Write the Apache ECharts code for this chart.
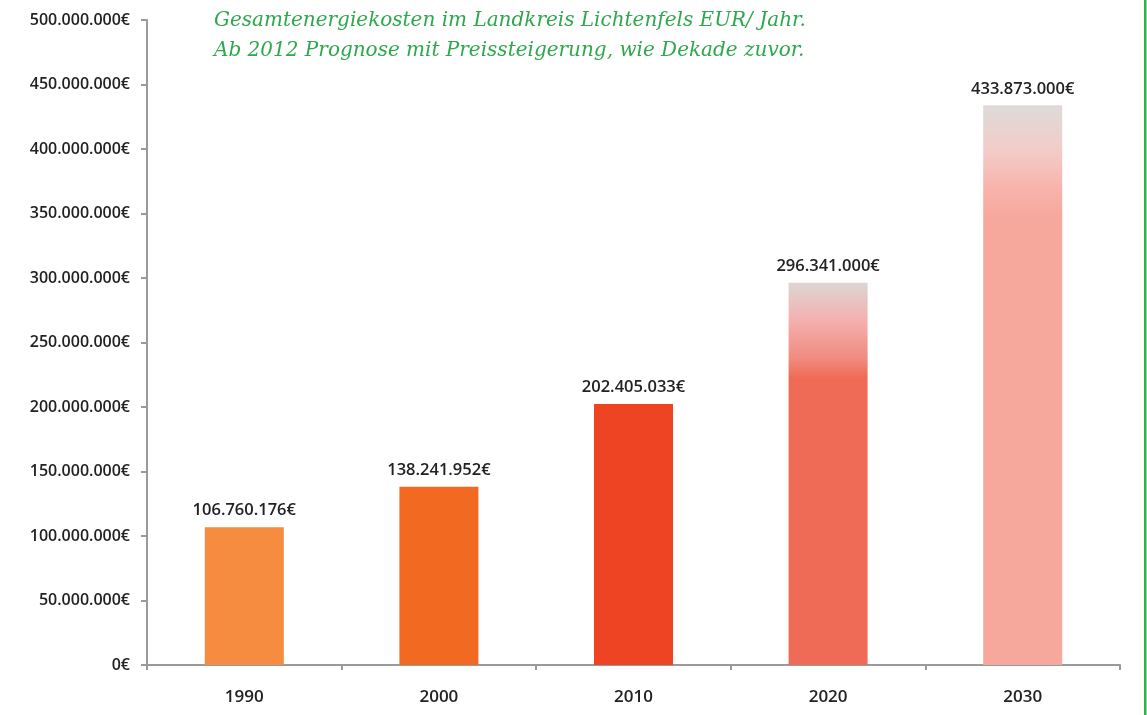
<!DOCTYPE html>
<html>
<head>
<meta charset="utf-8">
<script src="https://cdn.jsdelivr.net/npm/echarts@6/dist/echarts.min.js"></script>
<style>
html,body{margin:0;padding:0;background:#fff;}
#chart{width:1147px;height:715px;}
</style>
</head>
<body>
<div id="chart"></div>
<script>
const categories = ['1990', '2000', '2010', '2020', '2030'];
const values = [106760176, 138241952, 202405033, 296341000, 433873000];
const valueLabels = ['106.760.176€', '138.241.952€', '202.405.033€', '296.341.000€', '433.873.000€'];
const titleLines = ['Gesamtenergiekosten im Landkreis Lichtenfels EUR/ Jahr.', 'Ab 2012 Prognose mit Preissteigerung, wie Dekade zuvor.'];
const yMin = 0, yMax = 500000000, yInterval = 50000000;

function fmt(v) {
  return String(Math.round(v)).replace(/\B(?=(\d{3})+(?!\d))/g, '.') + '€';
}

const colors = [
  '#F58C40',
  '#F26922',
  '#EE4424',
  new echarts.graphic.LinearGradient(0, 0, 0, 1, [
    {offset: 0, color: '#DCD6D4'},
    {offset: 0.1, color: '#F4B0AE'},
    {offset: 0.2, color: '#F08A7E'},
    {offset: 0.25, color: '#F06B55'},
    {offset: 1, color: '#F06B55'}
  ]),
  new echarts.graphic.LinearGradient(0, 0, 0, 1, [
    {offset: 0, color: '#DEDBD9'},
    {offset: 0.08, color: '#F2CCC9'},
    {offset: 0.15, color: '#F8B3AB'},
    {offset: 0.2, color: '#F7A89C'},
    {offset: 1, color: '#F7A89C'}
  ])
];

const chart = echarts.init(document.getElementById('chart'), null, {renderer: 'canvas'});
chart.setOption({
  animation: false,
  backgroundColor: '#ffffff',
  grid: {left: 147, right: 27, top: 20, bottom: 50, containLabel: false},
  graphic: [
    {type: 'rect', shape: {x: 1144, y: 0, width: 2.5, height: 715}, style: {fill: '#2DB34A'}},
    {type: 'text', left: 214, top: 6, style: {
      text: titleLines.join('\n'), fill: '#2EA84C',
      font: 'italic 20px "DejaVu Serif"', lineHeight: 30
    }}
  ],
  xAxis: {
    type: 'category',
    data: categories,
    axisLine: {lineStyle: {color: '#9A9A9A', width: 2}},
    axisTick: {show: true, length: 5, lineStyle: {color: '#9A9A9A', width: 2}},
    axisLabel: {color: '#222', fontSize: 17, fontFamily: 'Open Sans', fontWeight: 600, margin: 24}
  },
  yAxis: {
    type: 'value',
    min: yMin, max: yMax, interval: yInterval,
    axisLine: {show: true, lineStyle: {color: '#9A9A9A', width: 2}},
    axisTick: {show: true, length: 6, lineStyle: {color: '#9A9A9A', width: 2}},
    splitLine: {show: false},
    axisLabel: {color: '#222', fontSize: 16, fontFamily: 'Open Sans', fontWeight: 600, margin: 17, formatter: fmt}
  },
  series: [{
    type: 'bar',
    data: values.map((v, i) => ({value: v, itemStyle: {color: colors[i]}})),
    barWidth: 79,
    label: {
      show: true, position: 'top', distance: 8,
      color: '#222', fontSize: 16.5, fontFamily: 'Open Sans', fontWeight: 600,
      formatter: p => valueLabels[p.dataIndex]
    }
  }]
});
</script>
</body>
</html>
